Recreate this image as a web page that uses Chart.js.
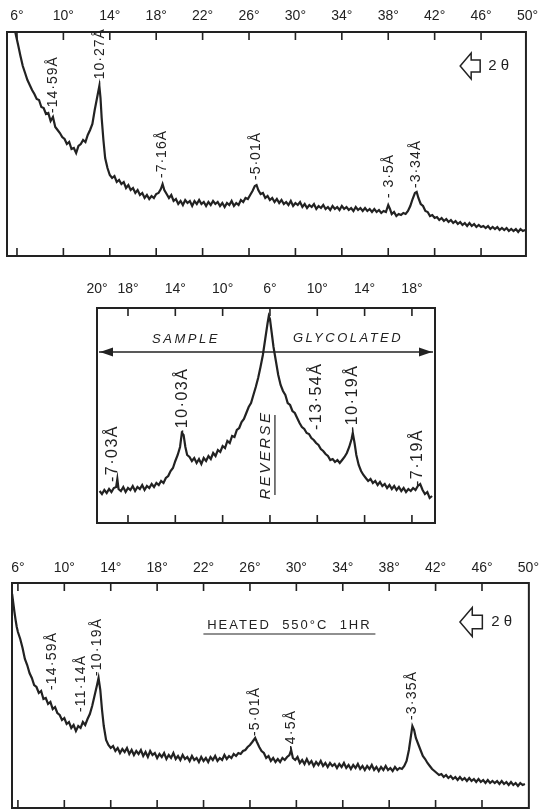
<!DOCTYPE html>
<html>
<head>
<meta charset="utf-8">
<script src="https://cdn.jsdelivr.net/npm/chart.js@4.4.0/dist/chart.umd.min.js"></script>
<style>
  html, body { margin: 0; padding: 0; background: #fff; }
  body { width: 545px; height: 809px; position: relative; overflow: hidden; }
  .panel { position: absolute; left: 0; width: 545px; }
</style>
</head>
<body>
<div class="panel" style="top:0;height:264px"><canvas id="top"></canvas></div>
<div class="panel" style="top:280px;height:252px"><canvas id="mid"></canvas></div>
<div class="panel" style="top:550px;height:259px"><canvas id="bot"></canvas></div>
<script>
// ---- data: [2theta, intensity] ----
const topScan = [
  [5.85,224],[6.1,211],[6.3,200],[6.5,190],[6.7,183],[6.9,176],[7.1,171],[7.3,166],[7.5,162],[7.7,157],[7.9,156],
  [8.1,149],[8.3,148],[8.5,142],[8.7,143],[8.9,135],[9.1,139],[9.3,129],[9.5,126],[9.7,123],[9.9,119],[10.1,117],
  [10.3,112],[10.5,114],[10.7,107],[10.9,108],[11.1,103],[11.3,110],[11.5,112],[11.7,116],[11.9,114],[12.1,121],
  [12.3,126],[12.5,132],[12.7,146],[12.9,158],[13.1,170],[13.2,158],[13.3,138],[13.45,116],[13.6,98],[13.8,88],
  [14.0,81],[14.2,78],[14.4,80],[14.6,74],[14.8,76],[15.0,72],[15.2,74],[15.4,68],[15.6,71],[15.8,66],[16.0,68],
  [16.2,63],[16.4,66],[16.6,61],[16.8,63],[17.0,58],[17.2,61],[17.4,57],[17.6,60],[17.8,58],[18.0,62],[18.2,63],
  [18.4,67],[18.55,72],[18.7,66],[18.9,62],[19.1,58],[19.3,61],[19.5,55],[19.7,57],[19.9,52],[20.1,55],[20.3,51],
  [20.5,56],[20.7,53],[20.9,55],[21.1,50],[21.3,55],[21.5,52],[21.7,56],[21.9,52],[22.1,54],[22.3,50],[22.5,54],
  [22.7,51],[22.9,55],[23.1,52],[23.3,54],[23.5,50],[23.7,53],[23.9,49],[24.1,53],[24.3,51],[24.5,55],[24.7,50],
  [24.9,53],[25.1,51],[25.3,56],[25.5,54],[25.7,58],[25.9,57],[26.1,61],[26.3,65],[26.5,70],[26.65,71],[26.8,66],
  [27.0,62],[27.2,63],[27.4,58],[27.6,60],[27.8,56],[28.0,58],[28.2,54],[28.4,57],[28.6,53],[28.8,56],[29.0,52],
  [29.2,54],[29.4,51],[29.6,55],[29.8,50],[30.0,53],[30.2,51],[30.4,54],[30.6,49],[30.8,52],[31.0,48],[31.2,51],
  [31.4,49],[31.6,52],[31.8,47],[32.0,50],[32.2,48],[32.4,51],[32.6,47],[32.8,49],[33.0,46],[33.2,50],[33.4,47],
  [33.6,49],[33.8,46],[34.0,50],[34.2,47],[34.4,49],[34.6,46],[34.8,48],[35.0,45],[35.2,49],[35.4,46],[35.6,48],
  [35.8,45],[36.0,48],[36.2,45],[36.4,47],[36.6,44],[36.8,47],[37.0,44],[37.2,46],[37.4,43],[37.6,45],[37.8,44],
  [38.0,51],[38.15,47],[38.3,42],[38.5,44],[38.7,40],[38.9,42],[39.1,41],[39.3,43],[39.5,42],[39.7,45],[39.9,50],
  [40.1,57],[40.3,63],[40.45,64],[40.6,58],[40.8,52],[41.0,50],[41.2,45],[41.4,44],[41.6,40],[41.8,41],[42.0,38],
  [42.2,39],[42.4,36],[42.6,38],[42.8,35],[43.0,37],[43.2,34],[43.4,36],[43.6,33],[43.8,35],[44.0,32],[44.2,34],
  [44.4,31],[44.6,33],[44.8,30],[45.0,33],[45.2,30],[45.4,32],[45.6,29],[45.8,31],[46.0,29],[46.2,30],[46.4,28],
  [46.6,30],[46.8,27],[47.0,29],[47.2,27],[47.4,29],[47.6,26],[47.8,28],[48.0,26],[48.2,28],[48.4,25],[48.6,27],
  [48.8,25],[49.0,27],[49.2,24],[49.4,27],[49.6,25],[49.8,26]
];

// middle panel: offset from 6 deg (negative = sample side, positive = glycolated side)
const midScan = [
  [-14.4,32],[-14.2,29],[-14.0,33],[-13.8,30],[-13.6,34],[-13.4,31],[-13.2,35],[-13.0,36],[-12.9,44],[-12.8,34],
  [-12.6,32],[-12.4,36],[-12.2,31],[-12.0,35],[-11.8,33],[-11.6,37],[-11.4,32],[-11.2,36],[-11.0,34],[-10.8,38],
  [-10.6,33],[-10.4,37],[-10.2,35],[-10.0,39],[-9.8,36],[-9.6,40],[-9.4,38],[-9.2,42],[-9.0,40],[-8.8,45],[-8.6,47],
  [-8.4,52],[-8.2,55],[-8.0,62],[-7.8,68],[-7.6,76],[-7.45,90],[-7.3,88],[-7.15,76],[-7.0,68],[-6.8,66],[-6.6,62],
  [-6.4,65],[-6.2,60],[-6.0,64],[-5.8,59],[-5.6,65],[-5.4,62],[-5.2,67],[-5.0,64],[-4.8,70],[-4.6,67],[-4.4,73],
  [-4.2,71],[-4.0,77],[-3.8,75],[-3.6,82],[-3.4,80],[-3.2,87],[-3.0,86],[-2.8,93],[-2.6,95],[-2.4,101],[-2.2,104],
  [-2.0,110],[-1.8,116],[-1.6,120],[-1.4,128],[-1.2,136],[-1.0,145],[-0.8,156],[-0.6,168],[-0.4,184],[-0.2,200],
  [-0.1,207],[0.0,204],[0.15,190],[0.3,176],[0.5,162],[0.7,148],[0.9,138],[1.1,132],[1.3,128],[1.5,120],[1.7,118],
  [1.9,112],[2.1,110],[2.3,105],[2.5,100],[2.7,96],[2.9,94],[3.1,90],[3.3,89],[3.5,85],[3.7,83],[3.9,80],[4.1,78],
  [4.3,74],[4.5,72],[4.7,69],[4.9,67],[5.1,63],[5.3,64],[5.5,61],[5.7,63],[5.9,60],[6.1,63],[6.3,66],[6.5,70],
  [6.7,76],[6.9,84],[7.0,90],[7.15,80],[7.3,68],[7.5,58],[7.7,52],[7.9,48],[8.1,45],[8.3,42],[8.5,44],[8.7,40],
  [8.9,42],[9.1,38],[9.3,41],[9.5,37],[9.7,39],[9.9,35],[10.1,38],[10.3,34],[10.5,37],[10.7,33],[10.9,36],[11.1,32],
  [11.3,35],[11.5,31],[11.7,34],[11.9,32],[12.1,35],[12.3,33],[12.5,37],[12.7,39],[12.9,33],[13.1,29],[13.3,31],
  [13.5,25],[13.7,27]
];

const botScan = [
  [5.5,214],[5.6,205],[5.7,196],[5.8,188],[5.9,181],[6.0,176],[6.2,169],[6.4,160],[6.6,149],[6.8,143],[7.0,135],
  [7.2,130],[7.4,123],[7.6,121],[7.8,115],[8.0,117],[8.2,109],[8.4,110],[8.6,104],[8.8,106],[9.0,99],[9.2,101],
  [9.4,95],[9.6,93],[9.8,88],[10.0,90],[10.2,84],[10.4,86],[10.6,80],[10.8,83],[11.0,77],[11.2,82],[11.4,80],
  [11.6,86],[11.8,83],[12.0,89],[12.2,94],[12.4,102],[12.6,112],[12.8,122],[12.95,130],[13.1,118],[13.25,98],
  [13.4,82],[13.6,68],[13.8,63],[14.0,60],[14.2,62],[14.4,57],[14.6,60],[14.8,55],[15.0,59],[15.2,56],[15.4,60],
  [15.6,54],[15.8,58],[16.0,53],[16.2,57],[16.4,54],[16.6,58],[16.8,52],[17.0,56],[17.2,51],[17.4,57],[17.6,53],
  [17.8,55],[18.0,50],[18.2,54],[18.4,51],[18.6,55],[18.8,49],[19.0,53],[19.2,50],[19.4,55],[19.6,49],[19.8,52],
  [20.0,48],[20.2,53],[20.4,49],[20.6,51],[20.8,47],[21.0,52],[21.2,48],[21.4,50],[21.6,46],[21.8,51],[22.0,47],
  [22.2,50],[22.4,46],[22.6,51],[22.8,48],[23.0,52],[23.2,47],[23.4,50],[23.6,48],[23.8,53],[24.0,49],[24.2,52],
  [24.4,50],[24.6,54],[24.8,52],[25.0,55],[25.2,54],[25.4,57],[25.6,58],[25.8,61],[26.0,63],[26.2,66],[26.45,70],
  [26.6,66],[26.8,61],[27.0,57],[27.2,55],[27.4,50],[27.6,52],[27.8,47],[28.0,50],[28.2,46],[28.4,49],[28.6,46],
  [28.8,50],[29.0,48],[29.2,51],[29.4,53],[29.55,58],[29.7,50],[29.9,48],[30.1,51],[30.3,45],[30.5,48],[30.7,44],
  [30.9,49],[31.1,44],[31.3,47],[31.5,42],[31.7,46],[31.9,43],[32.1,47],[32.3,42],[32.5,45],[32.7,41],[32.9,45],
  [33.1,42],[33.3,44],[33.5,40],[33.7,44],[33.9,41],[34.1,45],[34.3,40],[34.5,43],[34.7,39],[34.9,43],[35.1,40],
  [35.3,44],[35.5,39],[35.7,42],[35.9,38],[36.1,42],[36.3,39],[36.5,43],[36.7,38],[36.9,41],[37.1,37],[37.3,41],
  [37.5,38],[37.7,42],[37.9,38],[38.1,40],[38.3,37],[38.5,41],[38.7,38],[38.9,40],[39.1,39],[39.3,42],[39.5,47],
  [39.7,58],[39.85,70],[40.0,82],[40.15,78],[40.3,70],[40.5,64],[40.7,58],[40.9,52],[41.1,49],[41.3,45],[41.5,42],
  [41.7,39],[41.9,37],[42.1,35],[42.3,33],[42.5,34],[42.7,31],[42.9,33],[43.1,30],[43.3,32],[43.5,29],[43.7,31],
  [43.9,28],[44.1,31],[44.3,28],[44.5,30],[44.7,27],[44.9,30],[45.1,27],[45.3,29],[45.5,26],[45.7,29],[45.9,26],
  [46.1,28],[46.3,25],[46.5,28],[46.7,25],[46.9,27],[47.1,25],[47.3,27],[47.5,24],[47.7,27],[47.9,24],[48.1,26],
  [48.3,23],[48.5,26],[48.7,23],[48.9,25],[49.1,22],[49.3,25],[49.5,23],[49.7,24]
];

// tick values and labels
const scanTicks = [6, 10, 14, 18, 22, 26, 30, 34, 38, 42, 46, 50];
const scanTickLabels = ['6°', '10°', '14°', '18°', '22°', '26°', '30°', '34°', '38°', '42°', '46°', '50°'];
const midTicks = [-14.62, -12, -8, -4, 0, 4, 8, 12];
const midTickLabels = ['20°', '18°', '14°', '10°', '6°', '10°', '14°', '18°'];

// peak labels: [position, intensity at foot of label, text]
const topPeaks = [[9.16, 143, '-14·59Å'], [13.2, 171, '-10·27Å'], [18.55, 78, '-7·16Å'],
  [26.6, 76, '-5·01Å'], [38.05, 58, '- 3·5Å'], [40.44, 68, '-3·34Å']];
const midPeaks = [[-13.3, 41, '-7·03Å'], [-7.4, 88, '-10·03Å'], [3.97, 93, '-13·54Å'],
  [7.0, 91, '-10·19Å'], [12.5, 37, '-7·19Å']];
const botPeaks = [[8.91, 118, '-14·59Å'], [11.48, 96, '-11·14Å'], [12.86, 132, '-10·19Å'],
  [26.48, 72, '-5·01Å'], [29.56, 58, '-4·5Å'], [40.02, 88, '-3·35Å']];

const INK = '#222222';
const HAND = '"Liberation Sans", "DejaVu Sans", sans-serif';

function hollowArrow(ctx, tx, cy, s) {
  ctx.beginPath();
  ctx.moveTo(tx, cy);
  ctx.lineTo(tx + 11 * s, cy - 13 * s);
  ctx.lineTo(tx + 11 * s, cy - 6 * s);
  ctx.lineTo(tx + 20 * s, cy - 6 * s);
  ctx.lineTo(tx + 20 * s, cy + 6 * s);
  ctx.lineTo(tx + 11 * s, cy + 6 * s);
  ctx.lineTo(tx + 11 * s, cy + 13 * s);
  ctx.closePath();
  ctx.stroke();
}

const decor = {
  id: 'decor',
  afterDraw(chart, args, opts) {
    const {ctx, chartArea: a} = chart;
    const x = chart.scales.x, y = chart.scales.y;
    ctx.save();
    ctx.strokeStyle = INK;
    ctx.fillStyle = INK;
    ctx.lineWidth = 2;
    ctx.strokeRect(a.left, a.top, a.right - a.left, a.bottom - a.top);
    // inward tick marks top and bottom
    ctx.lineWidth = 1.6;
    x.ticks.forEach(t => {
      const px = x.getPixelForValue(t.value);
      if (px < a.left + 3 || px > a.right - 3) return;
      ctx.beginPath();
      ctx.moveTo(px, a.top); ctx.lineTo(px, a.top + 8);
      ctx.moveTo(px, a.bottom); ctx.lineTo(px, a.bottom - 8);
      ctx.stroke();
    });
    // rotated peak labels
    ctx.font = opts.labelFont;
    ctx.letterSpacing = opts.spacing;
    ctx.textAlign = 'left';
    ctx.textBaseline = 'middle';
    opts.peaks.forEach(p => {
      ctx.save();
      ctx.translate(x.getPixelForValue(p[0]), y.getPixelForValue(p[1]));
      ctx.rotate(-Math.PI / 2);
      ctx.fillText(p[2], 0, 0);
      ctx.restore();
    });
    ctx.letterSpacing = '0px';
    if (opts.extra) opts.extra(ctx, a, x, y);
    ctx.restore();
  }
};

function twoTheta(ctx, x, y, pos, inten, s) {
  const px = x.getPixelForValue(pos), py = y.getPixelForValue(inten);
  ctx.lineWidth = 1.5;
  hollowArrow(ctx, px, py, s);
  ctx.font = '15px ' + HAND;
  ctx.textAlign = 'left';
  ctx.textBaseline = 'middle';
  ctx.fillText('2 θ', px + 28 * s, py);
}

function makeChart(id, scan, o) {
  return new Chart(document.getElementById(id), {
    type: 'line',
    data: {
      datasets: [{
        data: scan.map(p => ({x: p[0], y: p[1]})),
        borderColor: INK,
        borderWidth: 2.2,
        pointRadius: 0,
        tension: 0,
        fill: false
      }]
    },
    options: {
      responsive: true,
      maintainAspectRatio: false,
      animation: false,
      events: [],
      layout: {padding: o.padding},
      plugins: {
        legend: {display: false},
        tooltip: {enabled: false},
        decor: {peaks: o.peaks, labelFont: o.labelFont, spacing: o.spacing, extra: o.extra}
      },
      scales: {
        x: {
          type: 'linear',
          position: 'top',
          min: o.min,
          max: o.max,
          grid: {display: false, drawTicks: false},
          border: {display: false},
          afterBuildTicks: s => { s.ticks = o.ticks.map(v => ({value: v})); },
          afterFit: s => { s.height = o.axisH; },
          ticks: {
            autoSkip: false,
            maxRotation: 0,
            padding: o.tickPad,
            color: INK,
            font: {family: HAND, size: 14},
            callback: (v, i) => o.tickLabels[i]
          }
        },
        y: {display: false, min: 0, max: o.ymax}
      }
    },
    plugins: [decor]
  });
}

makeChart('top', topScan, {
  min: 5.14, max: 49.87, ymax: 224, axisH: 32, tickPad: 7,
  padding: {left: 7, right: 16, top: 0, bottom: 8},
  ticks: scanTicks, tickLabels: scanTickLabels,
  peaks: topPeaks, labelFont: '14px ' + HAND, spacing: '1px',
  extra: (ctx, a, x, y) => twoTheta(ctx, x, y, 44.2, 190, 1)
});

makeChart('mid', midScan, {
  min: -14.62, max: 13.95, ymax: 215, axisH: 28, tickPad: 10,
  padding: {left: 97, right: 110, top: 0, bottom: 9},
  ticks: midTicks, tickLabels: midTickLabels,
  peaks: midPeaks, labelFont: '16px ' + HAND, spacing: '1.5px',
  extra: (ctx, a, x, y) => {
    const ay = y.getPixelForValue(171);
    ctx.lineWidth = 1.5;
    ctx.beginPath();
    ctx.moveTo(a.left + 2, ay); ctx.lineTo(a.right - 2, ay);
    ctx.stroke();
    [[a.left + 3, 1], [a.right - 3, -1]].forEach(([tx, d]) => {
      ctx.beginPath();
      ctx.moveTo(tx, ay);
      ctx.lineTo(tx + 13 * d, ay - 4.5);
      ctx.lineTo(tx + 13 * d, ay + 4.5);
      ctx.closePath();
      ctx.fill();
    });
    ctx.font = 'italic 13px ' + HAND;
    ctx.letterSpacing = '2.5px';
    ctx.textAlign = 'center';
    ctx.textBaseline = 'middle';
    ctx.fillText('SAMPLE', x.getPixelForValue(-7.1), y.getPixelForValue(184));
    ctx.fillText('GLYCOLATED', x.getPixelForValue(6.6), y.getPixelForValue(185));
    // REVERSE, written up the centre line
    const rx = x.getPixelForValue(-0.34), ry = y.getPixelForValue(68);
    ctx.save();
    ctx.translate(rx, ry);
    ctx.rotate(-Math.PI / 2);
    ctx.font = 'italic 15px ' + HAND;
    ctx.fillText('REVERSE', 0, 0);
    ctx.letterSpacing = '0px';
    ctx.lineWidth = 1.2;
    ctx.beginPath();
    ctx.moveTo(-40, 9); ctx.lineTo(40, 9);
    ctx.stroke();
    ctx.restore();
    ctx.letterSpacing = '0px';
  }
});

makeChart('bot', botScan, {
  min: 5.49, max: 50.04, ymax: 225, axisH: 33, tickPad: 6,
  padding: {left: 12, right: 13, top: 0, bottom: 1},
  ticks: scanTicks, tickLabels: scanTickLabels,
  peaks: botPeaks, labelFont: '14px ' + HAND, spacing: '1.2px',
  extra: (ctx, a, x, y) => {
    const cx = x.getPixelForValue(29.4), cy = y.getPixelForValue(183);
    ctx.font = '13px ' + HAND;
    ctx.letterSpacing = '2px';
    ctx.textAlign = 'center';
    ctx.textBaseline = 'middle';
    ctx.fillText('HEATED  550°C  1HR', cx, cy);
    ctx.letterSpacing = '0px';
    ctx.lineWidth = 1.2;
    ctx.beginPath();
    ctx.moveTo(cx - 86, cy + 9); ctx.lineTo(cx + 86, cy + 9);
    ctx.stroke();
    twoTheta(ctx, x, y, 44.1, 186, 1.12);
  }
});
</script>
</body>
</html>
